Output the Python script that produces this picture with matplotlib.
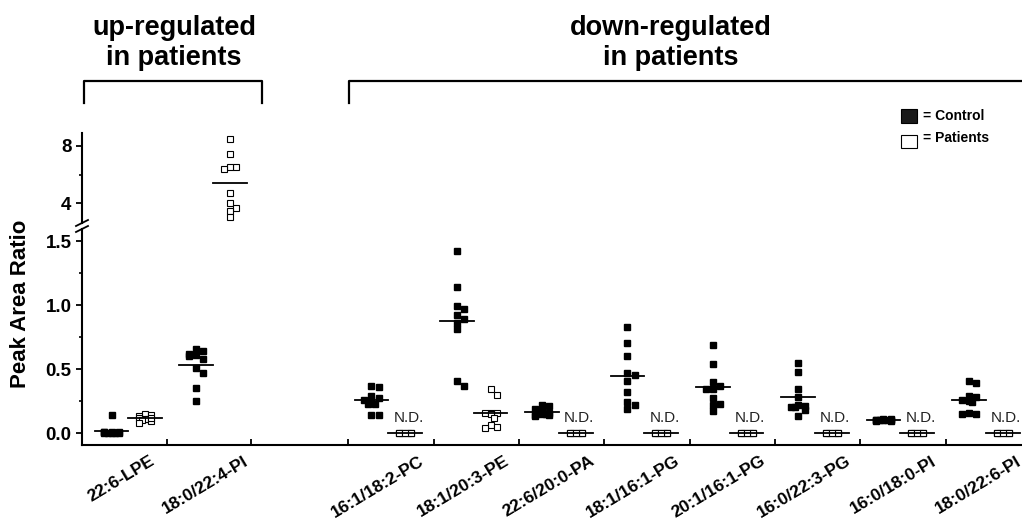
import numpy as np
import matplotlib
matplotlib.use("Agg")
import matplotlib.pyplot as plt
from matplotlib.lines import Line2D
from matplotlib.patches import Rectangle
from matplotlib.transforms import blended_transform_factory

plt.rcParams['font.family'] = ['Liberation Sans', 'DejaVu Sans']

# data
categories = ['22:6-LPE', '18:0/22:4-PI', '16:1/18:2-PC', '18:1/20:3-PE',
              '22:6/20:0-PA', '18:1/16:1-PG', '20:1/16:1-PG', '16:0/22:3-PG',
              '16:0/18:0-PI', '18:0/22:6-PI']

control = [
    [0.14, 0.01, 0.01, 0.00, 0.00, 0.01, 0.00, 0.01, 0.00, 0.00],
    [0.66, 0.64, 0.62, 0.61, 0.60, 0.58, 0.51, 0.47, 0.35, 0.25],
    [0.36, 0.37, 0.29, 0.27, 0.26, 0.23, 0.23, 0.26, 0.14, 0.14],
    [1.42, 1.14, 0.99, 0.97, 0.92, 0.89, 0.86, 0.81, 0.41, 0.37],
    [0.22, 0.21, 0.19, 0.17, 0.16, 0.15, 0.15, 0.14, 0.14, 0.13],
    [0.83, 0.70, 0.60, 0.47, 0.45, 0.41, 0.32, 0.24, 0.22, 0.19],
    [0.69, 0.54, 0.40, 0.37, 0.34, 0.34, 0.27, 0.23, 0.22, 0.17],
    [0.55, 0.48, 0.34, 0.28, 0.22, 0.21, 0.20, 0.20, 0.18, 0.13],
    [0.11, 0.10, 0.10, 0.10, 0.10, 0.09, 0.09, 0.10, 0.11, 0.10],
    [0.39, 0.41, 0.29, 0.28, 0.24, 0.25, 0.26, 0.15, 0.16, 0.15],
]

patients = [
    [0.15, 0.14, 0.13, 0.12, 0.11, 0.11, 0.10, 0.09, 0.08, 0.12],
    [8.49, 7.44, 6.50, 6.50, 6.36, 4.72, 4.02, 3.67, 3.46, 3.04],
    [0.0] * 10,
    [0.34, 0.30, 0.16, 0.16, 0.16, 0.15, 0.12, 0.06, 0.05, 0.04],
    [0.0] * 10,
    [0.0] * 10,
    [0.0] * 10,
    [0.0] * 10,
    [0.0] * 10,
    [0.0] * 10,
]

not_detected = [False, False, True, False, True, True, True, True, True, True]

# layout
W, H = 1022, 526
def fx(x):
    return x / W
def fy(y):
    return 1 - y / H

x_px = 84.5  # pixels per category
positions = [0.55, 1.55] + [3.15 + 1.01 * k + 0.475 for k in range(8)]
boundaries = [1, 2] + [3.15 + 1.01 * k for k in range(8)]
label_shift = [0.25] + [0.36] * 9
xmax = (W - 82) / x_px

fig = plt.figure(figsize=(W / 100, H / 100), dpi=100)
ax_lo = fig.add_axes([fx(82), fy(445), fx(W - 82), (445 - 229) / H])
ax_hi = fig.add_axes([fx(82), fy(223), fx(W - 82), (223 - 133) / H])

lo_lim = (-(445 - 433) / 128, (433 - 229) / 128)
hi_lim = (4 - (223 - 203.3) / 14.4, 8 + (145.7 - 133) / 14.4)
ax_lo.set_ylim(*lo_lim)
ax_hi.set_ylim(*hi_lim)


def swarm(vals, ppu, size=6.0, step=3.6):
    # small horizontal spread so that squares do not sit on top of each other
    order = np.argsort(vals)[::-1]
    placed = []
    offs = np.zeros(len(vals))
    cands = [0, step, -step, 2 * step, -2 * step, 3 * step, -3 * step]
    for n, i in enumerate(order):
        y = vals[i] * ppu
        pick = None
        for c in cands:
            if all(abs(c - px) >= size or abs(y - py) >= size for px, py in placed):
                pick = c
                break
        if pick is None:
            pick = cands[n % 5]
        placed.append((pick, y))
        offs[i] = pick / x_px
    return offs


for ax, ppu in ((ax_lo, 128), (ax_hi, 14.4)):
    for i, cat in enumerate(categories):
        xc = positions[i] - 0.2
        xp = positions[i] + 0.2
        c = np.array(control[i])
        p = np.array(patients[i])
        ax.plot(xc + swarm(c, ppu), c, 's', color='black', ms=4.7, mec='black')
        ax.plot(xp + swarm(p, ppu, step=3.0), p, 's', mfc='white', mec='black',
                ms=4.0, mew=0.8)
        ax.plot([xc - 0.2, xc + 0.2], [c.mean()] * 2, color='black', lw=1.3)
        ax.plot([xp - 0.2, xp + 0.2], [p.mean()] * 2, color='black', lw=1.3)
    ax.set_xlim(0, xmax)
    for s in ('top', 'right'):
        ax.spines[s].set_visible(False)
    ax.spines['left'].set_linewidth(1.5)
    ax.tick_params(axis='y', which='major', length=4.5, width=1.3, labelsize=13.5, pad=3)
    ax.tick_params(axis='y', which='minor', length=2.5, width=1.2)

ax_hi.spines['bottom'].set_visible(False)
ax_hi.set_xticks([])
ax_hi.set_yticks([4, 8])
ax_hi.set_yticklabels(['4', '8'], fontweight='bold')
ax_hi.set_yticks([6], minor=True)

ax_lo.spines['bottom'].set_linewidth(1.5)
ax_lo.set_yticks([0.0, 0.5, 1.0, 1.5])
ax_lo.set_yticklabels(['0.0', '0.5', '1.0', '1.5'], fontweight='bold')
ax_lo.set_yticks([0.25, 0.75, 1.25], minor=True)
ax_lo.set_xticks(boundaries)
ax_lo.set_xticklabels([])
ax_lo.tick_params(axis='x', direction='in', length=4.5, width=1.3)

# N.D. labels
for i in range(len(categories)):
    if not_detected[i]:
        ax_lo.text(positions[i] + 0.24, 0.086, 'N.D.', ha='center', va='baseline',
                   fontsize=11, color='#222222')

# category labels
trans = blended_transform_factory(ax_lo.transData, ax_lo.transAxes)
for i, cat in enumerate(categories):
    ax_lo.text(positions[i] + label_shift[i], -0.038, cat, transform=trans, rotation=31,
               rotation_mode='anchor', ha='right', va='top', fontsize=12.6,
               fontweight='bold')

# y label
fig.text(fx(21), fy(304), 'Peak Area Ratio', rotation=90, ha='center', va='center',
         fontsize=16, fontweight='bold')

# axis break marks
for y0 in (223, 229):
    fig.add_artist(Line2D([fx(76), fx(88)], [fy(y0 + 3), fy(y0 - 3)], color='black', lw=1.3))

# group headers and brackets
fig.text(fx(174), fy(35), 'up-regulated', ha='center', va='baseline', fontsize=19.5, fontweight='bold')
fig.text(fx(174), fy(65), 'in patients', ha='center', va='baseline', fontsize=19.5, fontweight='bold')
fig.text(fx(671), fy(35), 'down-regulated', ha='center', va='baseline', fontsize=19.5, fontweight='bold')
fig.text(fx(671), fy(65), 'in patients', ha='center', va='baseline', fontsize=19.5, fontweight='bold')

fig.add_artist(Line2D([fx(84), fx(84), fx(262), fx(262)], [fy(103), fy(81), fy(81), fy(103)],
                      color='black', lw=1.6))
fig.add_artist(Line2D([fx(349), fx(349), fx(W + 5)], [fy(103), fy(81), fy(81)],
                      color='black', lw=1.6))

# legend
fig.add_artist(Rectangle((fx(901), fy(123)), fx(16), 14 / H, facecolor='#1a1a1a', edgecolor='black', lw=0.8))
fig.add_artist(Rectangle((fx(901), fy(148)), fx(16), 13 / H, facecolor='white', edgecolor='black', lw=0.8))
fig.text(fx(923), fy(116), '= Control', ha='left', va='center', fontsize=10, fontweight='bold')
fig.text(fx(923), fy(138), '= Patients', ha='left', va='center', fontsize=10, fontweight='bold')

fig.savefig('out.png', dpi=100)
